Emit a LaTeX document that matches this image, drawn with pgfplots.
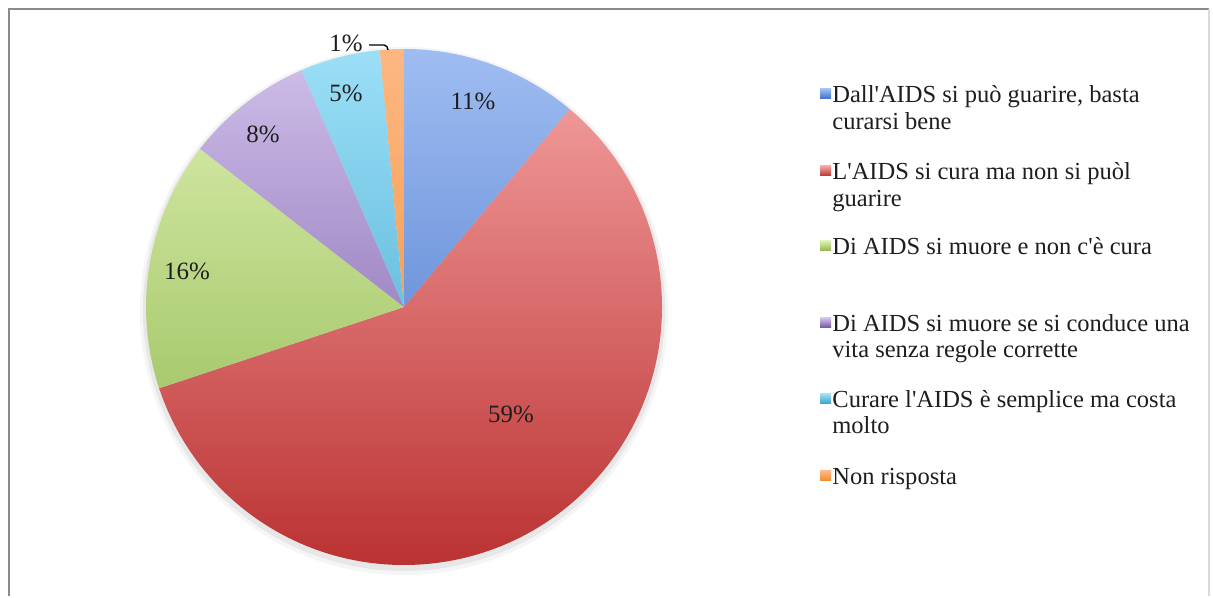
\documentclass[border=0pt]{standalone}
\usepackage{pgfplots}
\usepackage{pgfplotstable}
\pgfplotsset{compat=1.18}
\usepackage{fontspec}
\setmainfont{Liberation Serif}[Ligatures=TeXOff]

% slice colours: top (T) and bottom (B) of the vertical gradient
\definecolor{pblueT}{HTML}{9FBDF2}\definecolor{pblueB}{HTML}{3F6DC4}
\definecolor{predT}{HTML}{F6A4A4}\definecolor{predB}{HTML}{BB3232}
\definecolor{pgreenT}{HTML}{DDF0B2}\definecolor{pgreenB}{HTML}{8DB64B}
\definecolor{ppurpleT}{HTML}{D0C0EA}\definecolor{ppurpleB}{HTML}{7050A0}
\definecolor{pcyanT}{HTML}{9CDFF7}\definecolor{pcyanB}{HTML}{38A0C8}
\definecolor{porangeT}{HTML}{FDB782}\definecolor{porangeB}{HTML}{F0892E}
\definecolor{frame}{HTML}{8A8A8A}
\definecolor{txt}{HTML}{1E1E1E}

% value, printed label, colour, label position (x, y in picture units)
\pgfplotstableread{
value lab col  lx  ly
11.1  11  pblue   473 495
58.8  59  pred    511 182
15.6  16  pgreen  187 325
8.0   8   ppurple 263 462
5.0   5   pcyan   346 503
1.5   1   porange 346 553
}\piedata

\begin{document}
\begin{tikzpicture}
\begin{axis}[
  scale only axis, width=606.5bp, height=298bp,
  xmin=0, xmax=1213, ymin=0, ymax=596,
  axis lines=none, ticks=none, clip=false,
]
\path (axis cs:0,0) rectangle (axis cs:1213,596);
% frame
\draw[frame, line width=1.2bp] (axis cs:9,0) -- (axis cs:9,587) -- (axis cs:1209,587);
\draw[black!15, line width=0.8bp] (axis cs:1209,587) -- (axis cs:1209,0);

% soft shadow
\fill[black, opacity=0.04] (axis cs:404,285) circle[radius=132bp];
\fill[black, opacity=0.06] (axis cs:404,286) circle[radius=130.5bp];

\pgfplotstablegetrowsof{\piedata}
\pgfmathtruncatemacro\N{\pgfplotsretval-1}
\def\cum{0}
\pgfplotsforeachungrouped \i in {0,...,\N}{%
  \pgfplotstablegetelem{\i}{value}\of\piedata \let\v\pgfplotsretval
  \pgfplotstablegetelem{\i}{col}\of\piedata \let\c\pgfplotsretval
  \pgfmathsetmacro\a{90-3.6*\cum}%
  \pgfmathsetmacro\b{90-3.6*(\cum+\v)}%
  \pgfmathsetmacro\cum{\cum+\v}%
  \edef\temp{%
    \noexpand\begin{scope}
    \noexpand\clip (axis cs:404,289) -- ([shift={(\a:129bp)}]axis cs:404,289)
      arc[start angle=\a, end angle=\b, radius=129bp] -- cycle;
    \noexpand\shade[top color=\c T, bottom color=\c B]
      (axis cs:140,31) rectangle (axis cs:668,547);
    \noexpand\end{scope}
  }\temp
}
\pgfplotsforeachungrouped \i in {0,...,\N}{%
  \pgfplotstablegetelem{\i}{lab}\of\piedata \let\l\pgfplotsretval
  \pgfplotstablegetelem{\i}{lx}\of\piedata \let\lx\pgfplotsretval
  \pgfplotstablegetelem{\i}{ly}\of\piedata \let\ly\pgfplotsretval
  \edef\temp{\noexpand\node[text=txt, font=\noexpand\fontsize{12.5}{14}\noexpand\selectfont, inner sep=0pt]
     at (axis cs:\lx,\ly) {\l\noexpand\%};}\temp
}
% leader line of the 1% label
\draw[black, line width=0.7bp] (axis cs:369,551) -- (axis cs:384,551) to[out=0,in=90] (axis cs:388,546);

% legend
\begin{scope}[every node/.style={anchor=base west, inner sep=0pt, text=txt,
    font=\fontsize{12.3}{14}\selectfont}]
\shade[top color=pblueT, bottom color=pblueB] (axis cs:820,507) rectangle (axis cs:831,497);
\node at (axis cs:832,493) {Dall'AIDS si può guarire, basta};
\node at (axis cs:832,466) {curarsi bene};
\shade[top color=predT, bottom color=predB] (axis cs:820,430) rectangle (axis cs:831,420);
\node at (axis cs:832,416) {L'AIDS si cura ma non si puòl};
\node at (axis cs:832,389) {guarire};
\shade[top color=pgreenT, bottom color=pgreenB] (axis cs:820,355) rectangle (axis cs:831,345);
\node at (axis cs:832,341) {Di AIDS si muore e non c'è cura};
\shade[top color=ppurpleT, bottom color=ppurpleB] (axis cs:820,278) rectangle (axis cs:831,268);
\node at (axis cs:832,264) {Di AIDS si muore se si conduce una};
\node at (axis cs:832,238) {vita senza regole corrette};
\shade[top color=pcyanT, bottom color=pcyanB] (axis cs:820,202) rectangle (axis cs:831,192);
\node at (axis cs:832,188) {Curare l'AIDS è semplice ma costa};
\node at (axis cs:832,162) {molto};
\shade[top color=porangeT, bottom color=porangeB] (axis cs:820,125) rectangle (axis cs:831,115);
\node at (axis cs:832,111) {Non risposta};
\end{scope}
\end{axis}
\end{tikzpicture}
\end{document}
